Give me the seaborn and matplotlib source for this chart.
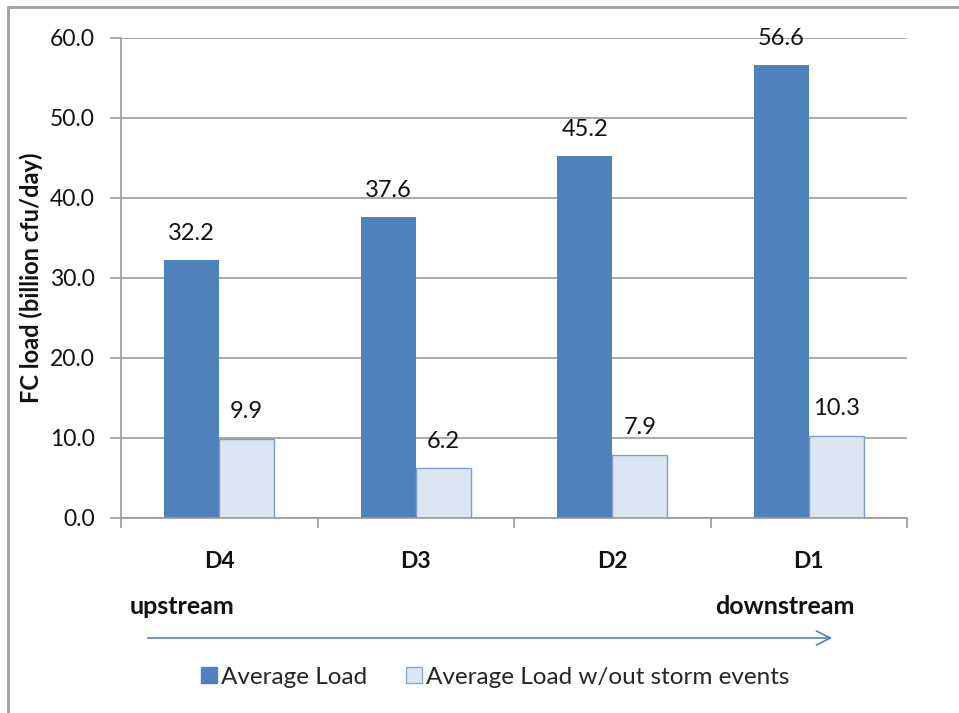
import pandas as pd
import matplotlib.pyplot as plt
import seaborn as sns
from matplotlib.lines import Line2D
from matplotlib.patches import FancyArrowPatch

# data
sites = ["D4", "D3", "D2", "D1"]
avg_load = [32.2, 37.6, 45.2, 56.6]
avg_no_storm = [9.9, 6.2, 7.9, 10.3]
series = ["Average Load", "Average Load w/out storm events"]

df = pd.DataFrame({
    "site": sites * 2,
    "load": avg_load + avg_no_storm,
    "series": [series[0]] * 4 + [series[1]] * 4,
})

blue = "#4F81BD"
light = "#DCE6F2"
grey = "#9A9A9A"
ink = "#111111"

sns.set_theme(style="white")
plt.rcParams["font.family"] = ["Lato", "DejaVu Sans"]

fig = plt.figure(figsize=(9.59, 7.13), dpi=100)
ax = fig.add_axes([121 / 959, 1 - 518 / 713, (907 - 121) / 959, (518 - 38) / 713])

sns.barplot(data=df, x="site", y="load", hue="series", order=sites,
            hue_order=series, palette=[blue, light], width=0.56, gap=0,
            saturation=1, ax=ax, legend=False)

for bar in ax.containers[1]:
    bar.set_edgecolor("#7F9CC9")
    bar.set_linewidth(1)
for bar in ax.containers[0]:
    bar.set_linewidth(0)

for cont in ax.containers:
    ax.bar_label(cont, fmt="%.1f", padding=12, fontsize=17, color=ink)

# axes styling
ax.set_ylim(0, 60)
ax.set_xlim(-0.5, 3.5)
ax.set_yticks([0, 10, 20, 30, 40, 50, 60])
ax.set_yticklabels([f"{v:.1f}" for v in range(0, 61, 10)], fontsize=16.5)
ax.yaxis.grid(True, color=grey, linewidth=1.2)
ax.set_axisbelow(True)
for s in ["top", "right"]:
    ax.spines[s].set_visible(False)
for s in ["left", "bottom"]:
    ax.spines[s].set_color(grey)
    ax.spines[s].set_linewidth(1.2)
ax.tick_params(axis="y", which="major", left=True, length=8, width=1.2,
               color=grey, pad=11, labelcolor=ink)
ax.set_xticks([-0.5, 0.5, 1.5, 2.5, 3.5], minor=True)
ax.tick_params(axis="x", which="minor", bottom=True, length=7, width=1.2, color=grey)
ax.tick_params(axis="x", which="major", length=0, pad=24, labelsize=16.5,
               labelcolor=ink)
for lab in ax.get_xticklabels():
    lab.set_fontweight("bold")
ax.set_xlabel("")
ax.set_ylabel("FC load (billion cfu/day)", fontsize=17, fontweight="bold",
              labelpad=5, color=ink)

# upstream / downstream arrow
fig.text(130 / 959, 1 - 606 / 713, "upstream", fontsize=18, fontweight="bold",
         ha="left", va="center", color=ink)
fig.text(785 / 959, 1 - 606 / 713, "downstream", fontsize=18, fontweight="bold",
         ha="center", va="center", color=ink)
arrow = FancyArrowPatch((145 / 959, 1 - 638 / 713), (835 / 959, 1 - 638 / 713),
                        transform=fig.transFigure, arrowstyle="->,head_length=10,head_width=5",
                        color=blue, linewidth=1.2)
fig.patches.append(arrow)

# legend
handles = [
    Line2D([], [], marker="s", linestyle="none", markersize=11,
           markerfacecolor=blue, markeredgecolor=blue),
    Line2D([], [], marker="s", linestyle="none", markersize=11,
           markerfacecolor=light, markeredgecolor="#8EA4C8"),
]
fig.legend(handles, series, loc="center", bbox_to_anchor=(495 / 959, 1 - 677 / 713),
           ncol=2, frameon=False, fontsize=17.5, handletextpad=0.15,
           columnspacing=1.6, handlelength=0.7)

# outer frame (top and left edges only visible)
fig.add_artist(Line2D([8 / 959, 8 / 959], [0, 1 - 7 / 713],
                      transform=fig.transFigure, color="#A0A0A0", linewidth=2))
fig.add_artist(Line2D([8 / 959, 1], [1 - 7 / 713, 1 - 7 / 713],
                      transform=fig.transFigure, color="#A0A0A0", linewidth=2))

fig.savefig("out.png", dpi=100)
